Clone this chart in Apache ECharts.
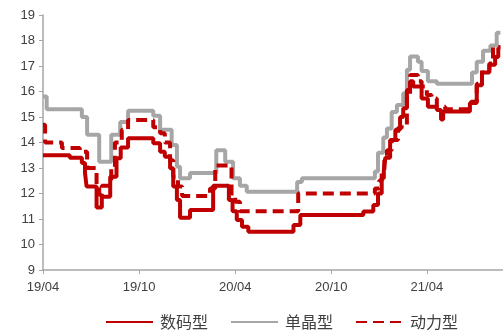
<!DOCTYPE html>
<html>
<head>
<meta charset="utf-8">
<script src="https://cdn.jsdelivr.net/npm/echarts@6/dist/echarts.min.js"></script>
<style>
  html, body { margin: 0; padding: 0; background: #ffffff; }
  #chart { width: 503px; height: 333px; }
</style>
</head>
<body>
<div id="chart"></div>
<script>
// Series names (legend)
const seriesNames = ['数码型', '单晶型', '动力型'];

// Y axis range and ticks
const yMin = 9, yMax = 19, yStep = 1;

// X axis range and labelled dates (YY/MM)
const xStart = '2019-04-01';
const xEnd = '2021-08-24';
const tickDates = ['2019-04-01', '2019-10-01', '2020-04-01', '2020-10-01', '2021-04-01'];

// 数码型: dates where the price changes, and the new price
const digitalDates = ['2019-04-01','2019-05-22','2019-06-14','2019-06-20','2019-06-23','2019-07-12','2019-07-22',
  '2019-08-07','2019-08-19','2019-08-27','2019-09-10','2019-10-28','2019-11-10','2019-11-19','2019-11-29',
  '2019-12-05','2019-12-12','2019-12-18','2020-01-06','2020-02-19','2020-03-20','2020-03-27','2020-04-04',
  '2020-04-14','2020-04-26','2020-07-21','2020-08-03','2020-12-01','2020-12-20','2020-12-29','2021-01-05',
  '2021-01-09','2021-01-12','2021-01-21','2021-01-31','2021-02-09','2021-02-15','2021-02-22','2021-02-28',
  '2021-03-06','2021-03-22','2021-04-03','2021-04-20','2021-04-28','2021-05-02','2021-06-22','2021-07-05',
  '2021-07-15','2021-07-29','2021-08-09','2021-08-15','2021-08-19'];
const digitalValues = [13.5,13.4,13.2,12.8,12.27,11.45,11.87,
  12.66,13.38,13.8,14.17,13.97,13.64,13.44,12.99,
  12.27,11.75,11.05,11.35,12.3,11.75,11.3,10.96,
  10.7,10.5,10.76,11.16,11.29,11.55,12.0,12.6,
  12.9,13.4,14.1,14.5,15.0,15.34,16.06,16.4,
  16.2,15.73,15.4,15.27,14.9,15.22,15.55,16.25,
  16.75,17.05,17.35,17.7,17.7];

// 单晶型
const monoDates = ['2019-04-01','2019-04-08','2019-06-14','2019-06-24','2019-07-17','2019-08-09','2019-08-26',
  '2019-09-10','2019-10-28','2019-11-10','2019-12-02','2019-12-12','2019-12-18','2020-01-06','2020-02-25',
  '2020-03-13','2020-03-28','2020-04-10','2020-04-23','2020-07-28','2020-08-06','2020-12-23','2020-12-29',
  '2021-01-08','2021-01-15','2021-01-24','2021-02-03','2021-02-15','2021-02-22','2021-02-28','2021-03-15',
  '2021-03-22','2021-04-03','2021-04-20','2021-06-26','2021-07-05','2021-07-17','2021-07-31','2021-08-12',
  '2021-08-19'];
const monoValues = [15.8,15.3,15.0,14.3,13.25,14.3,14.8,
  15.25,15.05,14.5,13.9,13.05,12.6,12.8,13.7,
  13.25,12.6,12.3,12.07,12.45,12.6,12.86,13.6,
  14.2,14.55,15.2,15.47,15.93,16.85,17.37,17.17,
  16.8,16.4,16.3,16.75,17.17,17.6,17.8,18.3,
  18.3];

// 动力型
const powerDates = ['2019-04-01','2019-04-05','2019-05-07','2019-06-10','2019-06-24','2019-07-12','2019-07-17',
  '2019-07-22','2019-08-09','2019-08-16','2019-08-29','2019-09-10','2019-10-28','2019-11-10','2019-11-19',
  '2019-11-29','2019-12-05','2019-12-14','2019-12-22','2020-02-13','2020-02-23','2020-03-25','2020-04-01',
  '2020-04-10','2020-07-30','2020-12-23','2020-12-31','2021-01-05','2021-01-10','2021-01-15','2021-01-24',
  '2021-02-05','2021-02-12','2021-02-22','2021-02-28','2021-03-15','2021-03-22','2021-04-01','2021-04-10',
  '2021-04-20','2021-05-06','2021-06-24','2021-07-05','2021-07-15','2021-07-29','2021-08-05','2021-08-19'];
const powerValues = [14.7,14.0,13.78,13.64,13.0,12.3,11.95,
  12.3,13.0,14.0,14.5,14.88,14.6,14.36,14.0,
  13.3,12.66,12.27,11.9,12.2,13.1,12.0,11.68,
  11.3,12.0,12.2,12.5,12.8,13.3,13.7,14.1,
  14.57,14.7,15.86,16.65,16.4,16.2,15.86,15.73,
  15.4,15.3,15.6,16.3,16.85,17.1,17.75,17.75];

const RED = '#C00000';
const GREY = '#A6A6A6';
const labelFont = '"Liberation Sans", Arial, sans-serif';

// 'YYYY-MM-DD' -> local timestamp
function stamp(s) {
  const [y, m, d] = s.split('-').map(Number);
  return new Date(y, m - 1, d).getTime();
}

function pairs(dates, values) {
  return dates.map((d, i) => [stamp(d), values[i]]);
}

function fmt(ts) {
  const d = new Date(ts);
  const yy = String(d.getFullYear()).slice(2);
  const mm = String(d.getMonth() + 1).padStart(2, '0');
  return yy + '/' + mm;
}

const tickStamps = tickDates.map(stamp);

const chart = echarts.init(document.getElementById('chart'), null, { renderer: 'canvas' });

chart.setOption({
  animation: false,
  backgroundColor: '#ffffff',
  grid: { left: 43, right: 0, top: 15, bottom: 63, containLabel: false },
  legend: {
    bottom: -2,
    left: 100,
    itemWidth: 47,
    itemHeight: 12,
    itemGap: 22,
    itemStyle: { opacity: 0 },
    textStyle: { fontSize: 16, color: '#404040', fontFamily: '"Noto Sans CJK SC", sans-serif', padding: [0, 0, 0, 2] },
    data: [seriesNames[0], seriesNames[1], seriesNames[2]]
  },
  xAxis: {
    type: 'value',
    min: stamp(xStart),
    max: stamp(xEnd),
    splitLine: { show: false },
    axisLine: { lineStyle: { color: '#A6A6A6', width: 1.5 } },
    axisTick: { show: true, length: 4, lineStyle: { color: '#A6A6A6' }, customValues: tickStamps },
    axisLabel: {
      customValues: tickStamps,
      formatter: v => fmt(v),
      color: '#404040',
      fontSize: 13,
      fontFamily: labelFont,
      margin: 11,
      showMinLabel: true,
      hideOverlap: false
    }
  },
  yAxis: {
    type: 'value',
    min: yMin,
    max: yMax,
    interval: yStep,
    splitLine: { show: false },
    axisLine: { show: true, lineStyle: { color: '#A6A6A6', width: 1.5 } },
    axisTick: { show: true, length: 4, lineStyle: { color: '#A6A6A6' } },
    axisLabel: { color: '#404040', fontSize: 13, fontFamily: labelFont, margin: 8 }
  },
  series: [
    {
      name: seriesNames[1],
      type: 'line',
      step: 'end',
      showSymbol: false,
      symbol: 'none',
      data: pairs(monoDates, monoValues),
      lineStyle: { color: GREY, width: 4 },
      itemStyle: { color: GREY },
      z: 2
    },
    {
      name: seriesNames[2],
      type: 'line',
      step: 'end',
      showSymbol: false,
      symbol: 'none',
      data: pairs(powerDates, powerValues),
      lineStyle: { color: RED, width: 4, type: [11, 6] },
      itemStyle: { color: RED },
      z: 3
    },
    {
      name: seriesNames[0],
      type: 'line',
      step: 'end',
      showSymbol: false,
      symbol: 'none',
      data: pairs(digitalDates, digitalValues),
      lineStyle: { color: RED, width: 4 },
      itemStyle: { color: RED },
      z: 4
    }
  ]
});
</script>
</body>
</html>
